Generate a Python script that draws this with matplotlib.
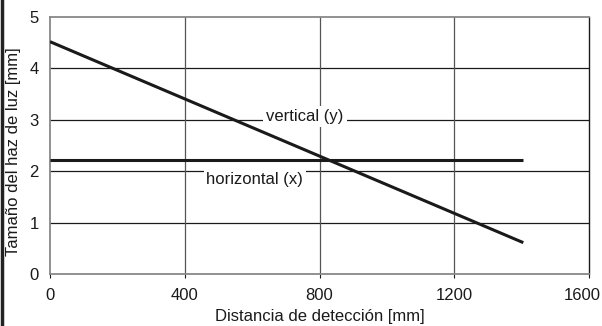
import matplotlib
matplotlib.use("Agg")
import matplotlib.pyplot as plt
from matplotlib.lines import Line2D
from matplotlib.transforms import ScaledTranslation

plt.rcParams['font.family'] = ['Liberation Sans', 'DejaVu Sans']

# data
vertical_x = [0, 1405]
vertical_y = [4.52, 0.61]
horizontal_x = [0, 1405]
horizontal_y = [2.22, 2.22]
xticks = [0, 400, 800, 1200, 1600]
yticks = [0, 1, 2, 3, 4, 5]
xlabel = "Distancia de detección [mm]"
ylabel = "Tamaño del haz de luz [mm]"
label_v = "vertical (y)"
label_h = "horizontal (x)"

fig = plt.figure(figsize=(6.02, 3.26), dpi=100)
ax = fig.add_axes([50/602, 52/326, 539/602, 257/326])
ax.set_xlim(0, 1600)
ax.set_ylim(0, 5)
ax.set_xticks(xticks)
ax.set_yticks(yticks)

for y in yticks[1:-1]:
    ax.axhline(y, color='#1a1a1a', lw=0.9, zorder=1)
for x in xticks[1:-1]:
    ax.axvline(x, color='#555555', lw=0.9, zorder=1)

ax.plot(vertical_x, vertical_y, color='#1a1a1a', lw=2.2, zorder=3, solid_capstyle='butt')
ax.plot(horizontal_x, horizontal_y, color='#1a1a1a', lw=2.2, zorder=3, solid_capstyle='butt')

bbox = dict(facecolor='white', edgecolor='none', pad=2)
ax.text(757, 3.07, label_v, ha='center', va='center', fontsize=12, color='#1a1a1a', bbox=bbox, zorder=2)
ax.text(608, 1.83, label_h, ha='center', va='center', fontsize=12, color='#1a1a1a', bbox=bbox, zorder=2)

for s in ['left', 'bottom', 'top']:
    ax.spines[s].set_color('#888888')
    ax.spines[s].set_linewidth(1.3)
ax.spines['right'].set_color('#1a1a1a')
ax.spines['right'].set_linewidth(1.0)

ax.tick_params(axis='both', labelsize=12, colors='#1a1a1a', length=3, width=0.8)
ax.tick_params(axis='y', length=0, pad=8)
ax.tick_params(axis='x', pad=7)
labels = ax.get_xticklabels()
labels[-1].set_horizontalalignment('right')
labels[-1].set_transform(labels[-1].get_transform() + ScaledTranslation(0.12, 0, fig.dpi_scale_trans))
ax.set_xlabel(xlabel, fontsize=12, color='#1a1a1a', va='center')
ax.xaxis.set_label_coords(0.5, (274 - 316) / 257)
ax.set_ylabel(ylabel, fontsize=12, color='#1a1a1a', va='center')
ax.yaxis.set_label_coords((14 - 50) / 539, (274 - 152) / 257)

fig.add_artist(Line2D([1.5/602, 1.5/602], [0, 1], color='#222222', lw=2.5, transform=fig.transFigure))

fig.savefig("out.png", dpi=100)
